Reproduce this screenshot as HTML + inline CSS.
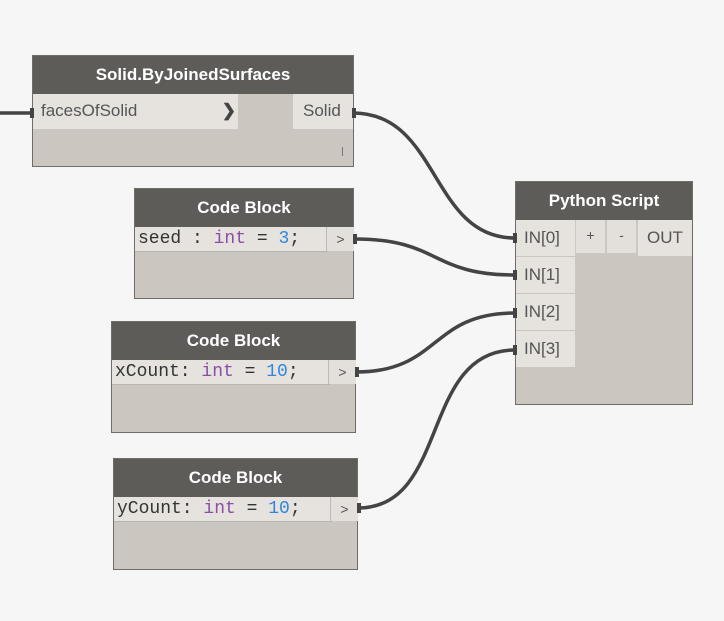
<!DOCTYPE html>
<html><head><style>
body{margin:0;width:724px;height:621px;background:#f6f6f6;position:relative;overflow:hidden;font-family:"Liberation Sans",sans-serif}
.n{position:absolute;background:#cbc7c0;border:1px solid #6e6d69;box-sizing:border-box}
.h{position:absolute;left:0;right:0;top:0;height:38px;background:#5e5c59;color:#fff;font-weight:bold;font-size:17px;text-align:center;line-height:38px}
.r{position:absolute;background:#e6e3df;color:#555;font-size:17px;line-height:34px}
.code{font-family:"Liberation Mono",monospace;font-size:18px;color:#333;line-height:25px;padding-left:3px;white-space:pre;border-bottom:1px solid #b8b4ae}
.k{color:#8a4fa8}.v{color:#2f86de}
.p{position:absolute;background:#e3e0db;color:#555;font-size:14px;text-align:center;line-height:24px;border-left:1px solid #bbb}
svg{position:absolute;left:0;top:0;z-index:5}
</style></head><body>
<svg width="724" height="621">
<g fill="none" stroke="#444" stroke-width="3.5">
<path d="M0 113 L32 113"/>
<path d="M353 113 C440 113 430 238 515 238"/>
<path d="M355 239 C440 239 430 275 515 275"/>
<path d="M356 372 C440 372 430 313 515 313"/>
<path d="M358 508 C450 508 420 350 515 350"/>
</g>
<g fill="#444">
<rect x="30" y="108" width="4" height="10"/>
<rect x="352" y="108" width="4" height="10"/>
<rect x="353" y="234" width="4" height="10"/>
<rect x="355" y="367" width="4" height="10"/>
<rect x="357" y="503" width="4" height="10"/>
<rect x="513" y="233" width="4" height="10"/>
<rect x="513" y="270" width="4" height="10"/>
<rect x="513" y="308" width="4" height="10"/>
<rect x="513" y="345" width="4" height="10"/>
</g>
</svg>
<div class="n" style="left:32px;top:55px;width:322px;height:112px">
<div class="h">Solid.ByJoinedSurfaces</div>
<div class="r" style="left:0;top:38px;width:205px;height:35px;padding-left:8px;box-sizing:border-box">facesOfSolid<span style="position:absolute;right:2px;font-weight:bold;color:#444">&#x276F;</span></div>
<div class="r" style="left:260px;top:38px;width:60px;height:35px;padding-left:10px;box-sizing:border-box">Solid</div>
<div style="position:absolute;right:10px;bottom:10px;width:1px;height:9px;background:#777"></div>
</div>
<div class="n" style="left:134px;top:188px;width:220px;height:111px">
<div class="h">Code Block</div>
<div class="r code" style="left:0;top:38px;width:190px;height:24px">seed : <span class="k">int</span> = <span class="v">3</span>;</div>
<div class="p" style="left:191px;top:38px;width:27px;height:24px">&gt;</div>
</div>
<div class="n" style="left:111px;top:321px;width:245px;height:112px">
<div class="h">Code Block</div>
<div class="r code" style="left:0;top:38px;width:215px;height:24px">xCount: <span class="k">int</span> = <span class="v">10</span>;</div>
<div class="p" style="left:216px;top:38px;width:27px;height:24px">&gt;</div>
</div>
<div class="n" style="left:113px;top:458px;width:245px;height:112px">
<div class="h">Code Block</div>
<div class="r code" style="left:0;top:38px;width:215px;height:24px">yCount: <span class="k">int</span> = <span class="v">10</span>;</div>
<div class="p" style="left:216px;top:38px;width:27px;height:24px">&gt;</div>
</div>
<div class="n" style="left:515px;top:181px;width:178px;height:224px">
<div class="h">Python Script</div>
<div class="r" style="left:0;top:38px;width:59px;height:36px;padding-left:8px;box-sizing:border-box;line-height:36px">IN[0]</div>
<div class="r" style="left:0;top:75px;width:59px;height:36px;padding-left:8px;box-sizing:border-box;line-height:36px">IN[1]</div>
<div class="r" style="left:0;top:112px;width:59px;height:36px;padding-left:8px;box-sizing:border-box;line-height:36px">IN[2]</div>
<div class="r" style="left:0;top:149px;width:59px;height:36px;padding-left:8px;box-sizing:border-box;line-height:36px">IN[3]</div>
<div class="p" style="left:60px;top:38px;width:29px;height:33px;line-height:30px;border:none">+</div>
<div class="p" style="left:91px;top:38px;width:29px;height:33px;line-height:30px;border:none">-</div>
<div class="r" style="left:122px;top:38px;width:54px;height:36px;text-align:center;line-height:36px">OUT</div>
</div>
</body></html>
